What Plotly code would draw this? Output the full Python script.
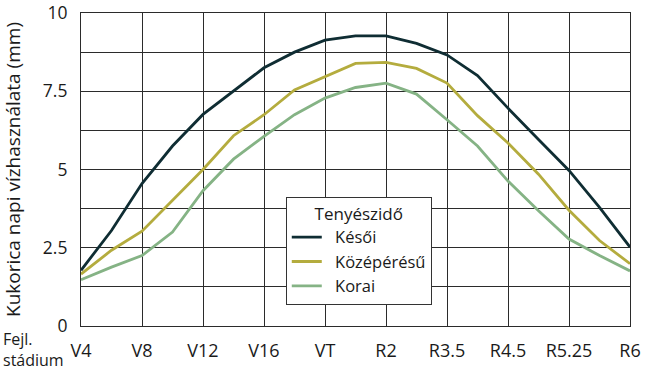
import plotly.graph_objects as go

stage_labels = ["V4", "V8", "V12", "V16", "VT", "R2", "R3.5", "R4.5", "R5.25", "R6"]
# half-step positions between labelled stages (0..18)
x_pos = list(range(19))

kesoi = [1.78, 3.05, 4.55, 5.75, 6.76, 7.52, 8.25, 8.75, 9.13, 9.27, 9.27, 9.03, 8.66, 8.0, 6.96, 5.96, 4.97, 3.79, 2.52]
kozeperesu = [1.66, 2.42, 3.03, 4.0, 5.0, 6.08, 6.75, 7.54, 7.97, 8.39, 8.42, 8.23, 7.76, 6.72, 5.85, 4.85, 3.70, 2.73, 1.99]
korai = [1.48, 1.88, 2.25, 3.0, 4.32, 5.33, 6.06, 6.75, 7.28, 7.62, 7.76, 7.41, 6.59, 5.75, 4.63, 3.68, 2.78, 2.25, 1.76]

series_names = ["\u2002Késői", "\u2002Középérésű", "\u2002Korai"]

y_tickvals = [0, 1.25, 2.5, 3.75, 5, 6.25, 7.5, 8.75, 10]
y_ticktext = ["0", "", "2.5", "", "5", "", "7.5", "", "10"]

FONT = "Open Sans"
TXT = "#1a1a1a"
grid = "#2b2b2b"

fig = go.Figure()
fig.add_trace(go.Scatter(x=x_pos, y=kesoi, mode="lines", name=series_names[0],
                         line=dict(color="#0f2d33", width=2.8)))
fig.add_trace(go.Scatter(x=x_pos, y=kozeperesu, mode="lines", name=series_names[1],
                         line=dict(color="#b4ac3e", width=2.8)))
fig.add_trace(go.Scatter(x=x_pos, y=korai, mode="lines", name=series_names[2],
                         line=dict(color="#85b385", width=2.8)))

fig.update_layout(
    width=651, height=371,
    margin=dict(l=81, r=21, t=13, b=45),
    paper_bgcolor="white", plot_bgcolor="white",
    font=dict(family=FONT, color=TXT, size=17),
    showlegend=True,
    legend=dict(
        title=dict(text="Tenyészidő", side="top center",
                   font=dict(size=17, family=FONT, color=TXT)),
        font=dict(size=16.5, family=FONT, color=TXT),
        x=0.373, y=0.413, xanchor="left", yanchor="top",
        bgcolor="white", bordercolor="#333333", borderwidth=1,
        itemwidth=30,
    ),
    xaxis=dict(
        range=[0, 18],
        tickmode="array",
        tickvals=[0, 2, 4, 6, 8, 10, 12, 14, 16, 18],
        ticktext=stage_labels,
        showgrid=True, gridcolor=grid, gridwidth=1.2,
        zeroline=False,
        showline=True, linecolor=grid, linewidth=1.2, mirror=True,
        ticks="", tickfont=dict(size=18, family=FONT, color=TXT),
        ticklabelstandoff=8, ticklabeloverflow="allow",
        automargin=False,
    ),
    yaxis=dict(
        range=[0, 10],
        tickmode="array",
        tickvals=y_tickvals,
        ticktext=y_ticktext,
        showgrid=True, gridcolor=grid, gridwidth=1.2,
        zeroline=False,
        showline=True, linecolor=grid, linewidth=1.2, mirror=True,
        ticks="", tickfont=dict(size=17.5, family=FONT, color=TXT),
        ticklabelstandoff=9, ticklabeloverflow="allow",
        automargin=False,
        title=dict(text="Kukorica napi vízhasználata (mm)",
                   font=dict(size=19, family=FONT, color=TXT), standoff=19),
    ),
)

fig.add_annotation(
    text="Fejl.<br>stádium", xref="paper", yref="paper",
    x=-0.146, y=0.0, xanchor="left", yanchor="top",
    align="left", showarrow=False,
    font=dict(size=16, family=FONT, color=TXT),
)

fig.write_html("out.html", config={"displayModeBar": False},
               post_script="document.body.style.margin='0';document.body.style.overflow='hidden';")
